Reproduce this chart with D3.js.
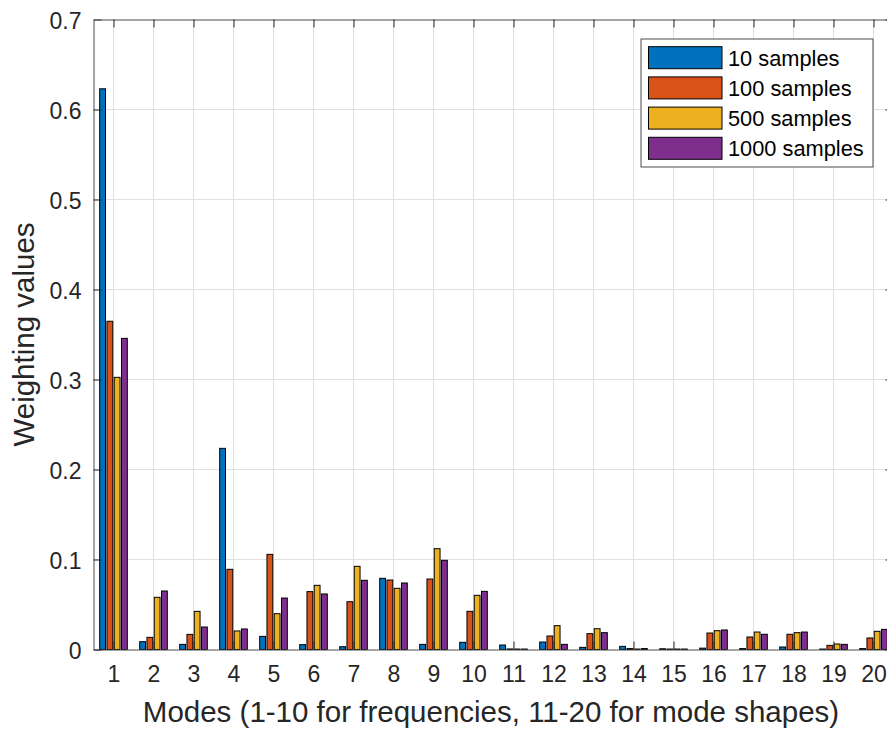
<!DOCTYPE html>
<html>
<head>
<meta charset="utf-8">
<script src="https://cdn.jsdelivr.net/npm/d3@7"></script>
<style>
  body { margin: 0; background: #fff; }
  svg { display: block; font-family: "Liberation Sans", Arial, sans-serif; }
</style>
</head>
<body>
<div id="chart"></div>
<script>
// data
var modes = d3.range(1, 21);
var seriesNames = ["10 samples", "100 samples", "500 samples", "1000 samples"];
var samples10 = [0.623, 0.0087, 0.0057, 0.2235, 0.0146, 0.0054, 0.0031, 0.0791, 0.0057, 0.008,
                 0.005, 0.0083, 0.0024, 0.0035, 0.0008, 0.0015, 0.001, 0.0028, 0.0005, 0.001];
var samples100 = [0.3647, 0.0135, 0.0168, 0.0891, 0.1057, 0.0643, 0.0531, 0.0772, 0.0783, 0.0424,
                  0.0006, 0.015, 0.0176, 0.001, 0.0005, 0.0183, 0.0139, 0.0169, 0.0046, 0.0128];
var samples500 = [0.3024, 0.058, 0.0424, 0.0206, 0.0398, 0.0713, 0.0924, 0.068, 0.112, 0.0602,
                  0.0005, 0.0265, 0.0231, 0.0005, 0.0005, 0.0209, 0.0194, 0.0187, 0.0061, 0.0202];
var samples1000 = [0.3457, 0.065, 0.025, 0.0228, 0.0572, 0.0617, 0.0769, 0.0739, 0.0991, 0.0646,
                   0.0005, 0.0057, 0.0187, 0.001, 0.0005, 0.0217, 0.0169, 0.0194, 0.0057, 0.0224];
var yTicks = [0, 0.1, 0.2, 0.3, 0.4, 0.5, 0.6, 0.7];
var yTickLabels = ["0", "0.1", "0.2", "0.3", "0.4", "0.5", "0.6", "0.7"];
var colors = ["#0072BD", "#D95319", "#EDB120", "#7E2F8E"];

var allSeries = [samples10, samples100, samples500, samples1000];

var W = 887, H = 729;
// plot box (note: "top" is a reserved window property, so use a margin object)
var plot = {left: 93.5, right: 893.5, top: 19.5, bottom: 649.5};
var axisColor = "#262626";

var x = d3.scaleLinear().domain([0.5, 20.5]).range([plot.left, plot.right]);
var y = d3.scaleLinear().domain([0, 0.7]).range([plot.bottom, plot.top]);

var svg = d3.select("#chart").append("svg")
    .attr("width", W)
    .attr("height", H);

// grid
var grid = svg.append("g").attr("stroke", "#dfdfdf").attr("stroke-width", 1);
grid.selectAll(".vg").data(modes).enter().append("line")
    .attr("x1", d => x(d)).attr("x2", d => x(d))
    .attr("y1", plot.top).attr("y2", plot.bottom);
grid.selectAll(".hg").data(yTicks.slice(1, -1)).enter().append("line")
    .attr("x1", plot.left).attr("x2", plot.right)
    .attr("y1", d => y(d)).attr("y2", d => y(d));

// bars
var groupWidth = 0.727;
var slot = groupWidth / seriesNames.length;
var barW = (x(1 + slot * 0.8) - x(1));

allSeries.forEach(function(vals, j) {
    var off = (j - 1.5) * slot;
    svg.append("g").selectAll("rect").data(vals).enter().append("rect")
        .attr("x", (d, i) => x(modes[i] + off) - barW / 2)
        .attr("y", d => y(d))
        .attr("width", barW)
        .attr("height", d => y(0) - y(d))
        .attr("fill", colors[j])
        .attr("stroke", "#000")
        .attr("stroke-width", 1);
});

// axes (MATLAB style box with inward ticks)
var xAxis = svg.append("g")
    .attr("transform", `translate(0,${plot.bottom})`)
    .call(d3.axisBottom(x).tickValues(modes).tickSizeInner(-8).tickSizeOuter(0).tickPadding(16));
xAxis.attr("font-size", null).attr("font-family", null);
xAxis.selectAll("text").style("font-size", "23px").attr("fill", axisColor);

var yAxis = svg.append("g")
    .attr("transform", `translate(${plot.left},0)`)
    .call(d3.axisLeft(y).tickValues(yTicks).tickFormat((d, i) => yTickLabels[i])
        .tickSizeInner(-8).tickSizeOuter(0).tickPadding(12));
yAxis.attr("font-size", null).attr("font-family", null);
yAxis.selectAll("text").style("font-size", "23px").attr("fill", axisColor).attr("dy", "0.4em");

svg.append("g")
    .attr("transform", `translate(0,${plot.top})`)
    .call(d3.axisTop(x).tickValues(modes).tickSizeInner(-8).tickSizeOuter(0).tickFormat(""));
svg.append("g")
    .attr("transform", `translate(${plot.right},0)`)
    .call(d3.axisRight(y).tickValues(yTicks).tickSizeInner(-8).tickSizeOuter(0).tickFormat(""));

svg.selectAll(".domain").attr("stroke", "#4d4d4d");
svg.selectAll(".tick line").attr("stroke", axisColor);

// axis titles
svg.append("text")
    .attr("x", 491)
    .attr("y", 722)
    .attr("text-anchor", "middle")
    .style("font-size", "29.5px")
    .attr("fill", axisColor)
    .text("Modes (1-10 for frequencies, 11-20 for mode shapes)");

svg.append("text")
    .attr("transform", `translate(34,${(plot.top + plot.bottom) / 2}) rotate(-90)`)
    .attr("text-anchor", "middle")
    .style("font-size", "29.5px")
    .attr("fill", axisColor)
    .text("Weighting values");

// legend
var lg = svg.append("g").attr("transform", "translate(641,39)");
lg.append("rect")
    .attr("width", 232).attr("height", 128)
    .attr("fill", "#fff").attr("stroke", "#4d4d4d").attr("stroke-width", 1);
seriesNames.forEach(function(name, i) {
    var cy = 18.7 + i * 30.2;
    lg.append("rect")
        .attr("x", 7.5).attr("y", cy - 11)
        .attr("width", 73.5).attr("height", 22)
        .attr("fill", colors[i]).attr("stroke", "#000").attr("stroke-width", 1);
    lg.append("text")
        .attr("x", 87).attr("y", cy + 7.8)
        .style("font-size", "21.8px")
        .attr("fill", "#000")
        .text(name);
});
</script>
</body>
</html>
